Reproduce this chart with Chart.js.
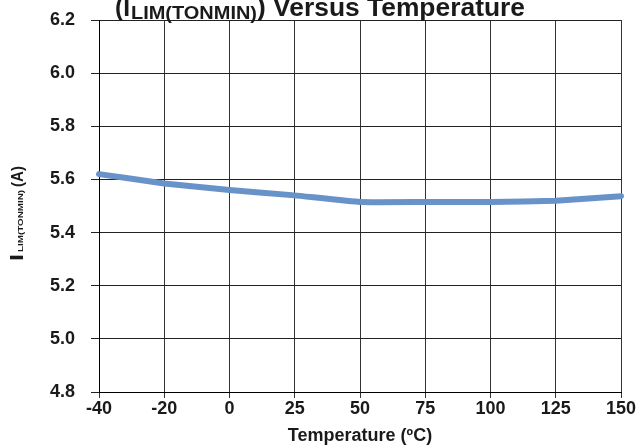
<!DOCTYPE html>
<html><head><meta charset="utf-8">
<script src="https://cdn.jsdelivr.net/npm/chart.js@4"></script>
<style>html,body{margin:0;padding:0;background:#fff}#wrap{width:640px;height:448px;position:relative}</style>
</head><body><div id="wrap"><canvas id="c" width="640" height="448"></canvas></div>
<script>
const categories = ['-40','-20','0','25','50','75','100','125','150'];
const currentLimit = [5.62, 5.585, 5.56, 5.54, 5.515, 5.515, 5.515, 5.52, 5.537];
const yTicks = [4.8, 5.0, 5.2, 5.4, 5.6, 5.8, 6.0, 6.2];
const FONT = '"Liberation Sans", Arial, sans-serif';

function fitText(ctx, text, font, x, y, w) {
  ctx.font = font;
  const m = ctx.measureText(text).width;
  ctx.save();
  ctx.translate(x, y);
  ctx.scale(w / m, 1);
  ctx.fillText(text, 0, 0);
  ctx.restore();
}

const textPlugin = {
  id: 'textPlugin',
  afterDraw(chart) {
    const ctx = chart.ctx;
    ctx.save();
    ctx.fillStyle = '#1a1a1a';
    ctx.textBaseline = 'alphabetic';
    ctx.textAlign = 'left';
    // Title with subscript (top is clipped by the canvas edge, as in the reference)
    fitText(ctx, '(I', 'bold 25px ' + FONT, 115, 16, 15);
    fitText(ctx, 'LIM(TONMIN)', 'bold 19px ' + FONT, 131, 19, 126);
    fitText(ctx, ') Versus Temperature', 'bold 25px ' + FONT, 257, 16, 268);
    // Y axis title rotated
    ctx.translate(23, 261);
    ctx.rotate(-Math.PI / 2);
    fitText(ctx, 'I', 'bold 18px ' + FONT, 0, 0, 7);
    fitText(ctx, 'LIM(TONMIN)', 'bold 8px ' + FONT, 9, 0, 62);
    fitText(ctx, '(A)', 'bold 16px ' + FONT, 74, 0, 21);
    ctx.restore();
  }
};

new Chart(document.getElementById('c'), {
  type: 'line',
  data: {
    labels: categories,
    datasets: [{
      data: currentLimit,
      borderColor: '#6893c8',
      borderWidth: 6,
      borderCapStyle: 'round',
      borderJoinStyle: 'round',
      pointRadius: 0,
      tension: 0.1,
      fill: false
    }]
  },
  options: {
    responsive: false,
    animation: false,
    devicePixelRatio: 1,
    layout: {padding: {top: 20, right: 19, left: 0, bottom: 0}},
    plugins: {legend: {display: false}, tooltip: {enabled: false}, title: {display: false}},
    scales: {
      x: {
        type: 'category',
        offset: false,
        grid: {color: '#333', lineWidth: 1, tickLength: 6, drawTicks: true},
        border: {color: '#000', width: 1},
        ticks: {color: '#1a1a1a', font: {family: FONT, size: 18, weight: 'bold'}, padding: 0, maxRotation: 0, autoSkip: false},
        title: {display: true, text: 'Temperature (ºC)', color: '#1a1a1a', font: {family: FONT, size: 18, weight: 'bold'}, padding: {top: 0, bottom: 1}},
        afterFit(s) { s.height = 56; s.paddingLeft = 0; s.paddingRight = 0; }
      },
      y: {
        min: 4.8, max: 6.2,
        afterBuildTicks(s) { s.ticks = yTicks.map(v => ({value: v})); },
        grid: {color: '#222', lineWidth: 1, tickLength: 8},
        border: {color: '#000', width: 1},
        ticks: {color: '#1a1a1a', font: {family: FONT, size: 18, weight: 'bold'}, padding: 16, callback: v => Number(v).toFixed(1)},
        afterFit(s) { s.width = 99; s.paddingTop = 0; s.paddingBottom = 0; }
      }
    }
  },
  plugins: [textPlugin]
});
</script></body></html>
